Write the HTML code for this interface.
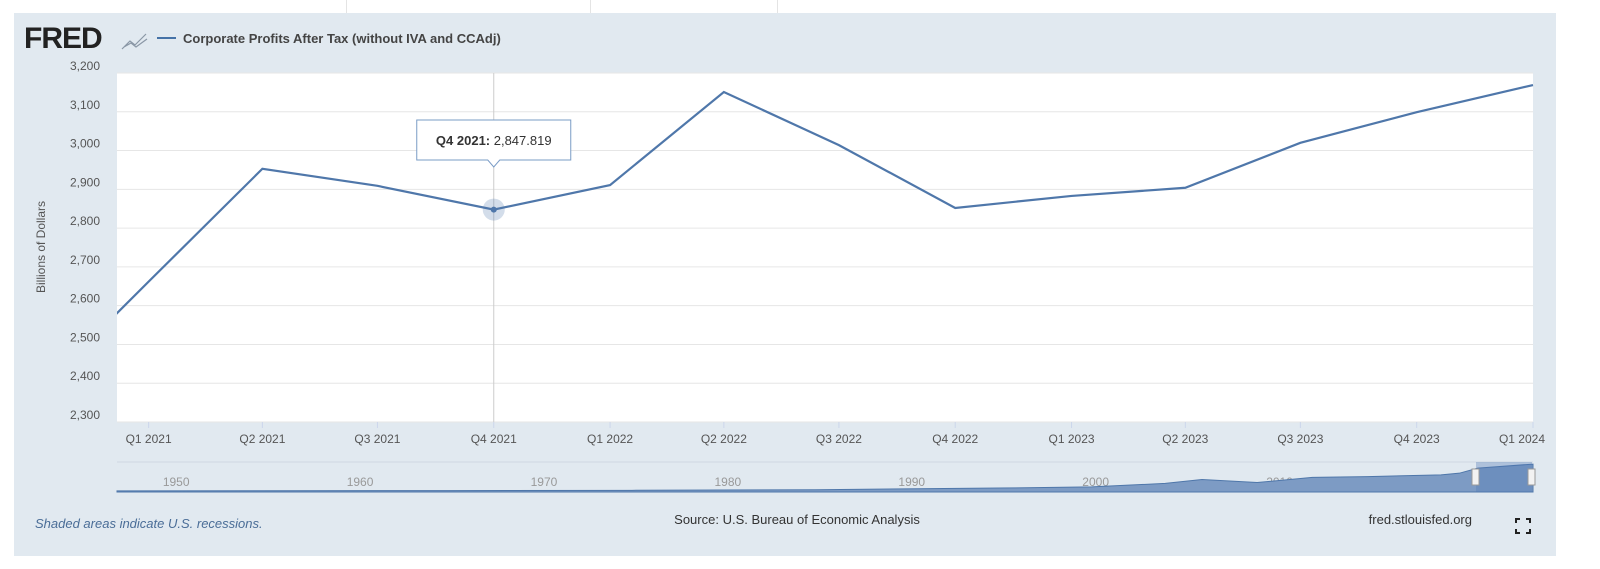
<!DOCTYPE html>
<html><head><meta charset="utf-8"><style>
body{margin:0;width:1600px;height:569px;background:#fff;font-family:"Liberation Sans",sans-serif;overflow:hidden;position:relative}
</style></head><body>
<div style="position:absolute;left:0;top:0;width:1600px;height:13px;background:#fff">
<div style="position:absolute;left:346px;top:0;width:1px;height:13px;background:#e4e4e4"></div>
<div style="position:absolute;left:590px;top:0;width:1px;height:13px;background:#e4e4e4"></div>
<div style="position:absolute;left:777px;top:0;width:1px;height:13px;background:#e4e4e4"></div>
</div>
<div style="position:absolute;left:14px;top:13px;width:1542px;height:543px;background:#e1e9f0"></div>
<svg id="chart" width="1600" height="569" style="position:absolute;left:0;top:0" xmlns="http://www.w3.org/2000/svg">
<text x="24" y="48" font-size="30" font-weight="bold" fill="#222" style="letter-spacing:-1px">FRED</text>
<path d="M122 49 L130 41 L135 45 L146 34 M124 47 L131 43 L136 47 L147 39" stroke="#8a97a6" stroke-width="1.2" fill="none"/>
<line x1="157" y1="38" x2="176" y2="38" stroke="#4572a7" stroke-width="2"/>
<text x="183" y="43" font-size="13" font-weight="bold" fill="#444">Corporate Profits After Tax (without IVA and CCAdj)</text>
<rect x="117" y="73" width="1416" height="349" fill="#fff"/>
<g id="grid"></g>
<g id="yticks"></g>
<text transform="translate(45,247) rotate(-90)" text-anchor="middle" font-size="12" fill="#555">Billions of Dollars</text>
<g id="xticks"></g>
<line id="cross" y1="73" y2="422" stroke="#ccc" stroke-width="1"/>
<path id="line" fill="none" stroke="#4f77aa" stroke-width="2.2"/>
<g id="hover"></g>
<rect x="117" y="462" width="1416" height="30" fill="#e1e9f0"/>
<line x1="117" y1="462" x2="1533" y2="462" stroke="#cfd8e2"/>
<g id="navticks"></g>
<path id="navarea" fill="#7d9bc4" stroke="#4f77aa" stroke-width="1"/>
<rect x="1476" y="462" width="56" height="30" fill="rgba(80,120,180,0.35)"/>
<rect x="1472" y="469" width="7" height="16" fill="#f2f2f2" stroke="#999"/>
<rect x="1528" y="469" width="7" height="16" fill="#f2f2f2" stroke="#999"/>
<text x="35" y="528" font-size="13" font-style="italic" fill="#4a6d97">Shaded areas indicate U.S. recessions.</text>
<text x="797" y="524" font-size="13" text-anchor="middle" fill="#333">Source: U.S. Bureau of Economic Analysis</text>
<text x="1472" y="524" font-size="13" text-anchor="end" fill="#333">fred.stlouisfed.org</text>
<path d="M1516 523v-4h4M1526 519h4v4M1530 529v4h-4M1520 533h-4v-4" stroke="#222" stroke-width="2" fill="none"/>
</svg>
<script>
const categories=["2020-10-01","2021-01-01","2021-04-01","2021-07-01","2021-10-01","2022-01-01","2022-04-01","2022-07-01","2022-10-01","2023-01-01","2023-04-01","2023-07-01","2023-10-01","2024-01-01"];
const values=[2362,2662,2953,2909,2847.819,2911,3151,3014,2852,2883,2904,3020,3099,3169];
const tickLabels=["Q1 2021","Q2 2021","Q3 2021","Q4 2021","Q1 2022","Q2 2022","Q3 2022","Q4 2022","Q1 2023","Q2 2023","Q3 2023","Q4 2023","Q1 2024"];
const tickDates=["2021-01-01","2021-04-01","2021-07-01","2021-10-01","2022-01-01","2022-04-01","2022-07-01","2022-10-01","2023-01-01","2023-04-01","2023-07-01","2023-10-01","2024-01-01"];
const yTicks=[2300,2400,2500,2600,2700,2800,2900,3000,3100,3200];
const navYears=[1947,1955,1965,1975,1985,1995,2000,2004,2006,2009,2012,2015,2019,2020,2021,2024];
const navValues=[20,30,50,80,150,350,480,900,1350,1000,1600,1700,1900,2100,2700,3169];
const navLabels=["1950","1960","1970","1980","1990","2000","2010"];
const NS="http://www.w3.org/2000/svg";
const d0=new Date("2024-01-01")-1120*864e5, d1=+new Date("2024-01-01");
const X=d=>117+(new Date(d)-d0)/(d1-d0)*1416;
const Y=v=>422-(v-2300)/900*349;
function mk(tag,attrs,parent){const e=document.createElementNS(NS,tag);for(const k in attrs)e.setAttribute(k,attrs[k]);document.getElementById(parent).appendChild(e);return e;}
yTicks.forEach(v=>{
 const g=mk('line',{x1:117,x2:1533,y1:Y(v),y2:Y(v),stroke:'#e6e6e6'},'grid');
 
 
 const t=mk('text',{x:100,y:Y(v)-3,'text-anchor':'end','font-size':12,fill:'#555'},'yticks');
 t.textContent=v.toLocaleString('en-US');
 
 
});
tickLabels.forEach((l,i)=>{
 const x=X(tickDates[i]);
 mk('line',{x1:x,x2:x,y1:422,y2:428,stroke:'#ccd6eb'},'xticks');
 const t=mk('text',{x:Math.min(x,1522),y:443,'text-anchor':'middle','font-size':12,fill:'#555'},'xticks');
 t.textContent=l;
 
 
});
document.getElementById('line').setAttribute('d',categories.map((c,i)=>(i?'L':'M')+X(c)+' '+Y(values[i])).join(''));
const clip=mk('clipPath',{id:'pc'},'chart');
const cr=document.createElementNS(NS,'rect');cr.setAttribute('x',117);cr.setAttribute('y',60);cr.setAttribute('width',1420);cr.setAttribute('height',370);clip.appendChild(cr);
document.getElementById('line').setAttribute('clip-path','url(#pc)');
const hx=X(categories[4]),hy=Y(values[4]);
const cs=document.getElementById('cross');cs.setAttribute('x1',hx);cs.setAttribute('x2',hx);
const halo=mk('circle',{cx:hx,cy:hy,r:11,fill:'rgba(79,119,170,0.25)'},'hover');


mk('circle',{cx:hx,cy:hy,r:3,fill:'#4f77aa'},'hover');
const tip=mk('path',{fill:'#fff',stroke:'#7a9cc6'},'hover');
tip.setAttribute('d',`M${hx-77} 120 h154 v40 h-71 l-6 7 l-6 -7 h-71 z`);


const tt=mk('text',{x:hx,y:145,'text-anchor':'middle','font-size':13,fill:'#333'},'hover');
tt.innerHTML='<tspan font-weight="bold">Q4 2021:</tspan> '+values[4].toLocaleString('en-US',{minimumFractionDigits:3});


const NX=y=>117+(y-1947)/(2024-1947)*1416, NY=v=>491-v/3300*28;
navLabels.forEach(l=>{
 const t=mk('text',{x:NX(+l)+4,y:486,'font-size':12,fill:'#999','text-anchor':'middle'},'navticks');
 t.textContent=l;
 
 
});
document.getElementById('navarea').setAttribute('d','M'+NX(1947)+' 492'+navYears.map((y,i)=>'L'+NX(y)+' '+NY(navValues[i])).join('')+'L'+NX(2024)+' 492Z');
</script>
</body></html>
